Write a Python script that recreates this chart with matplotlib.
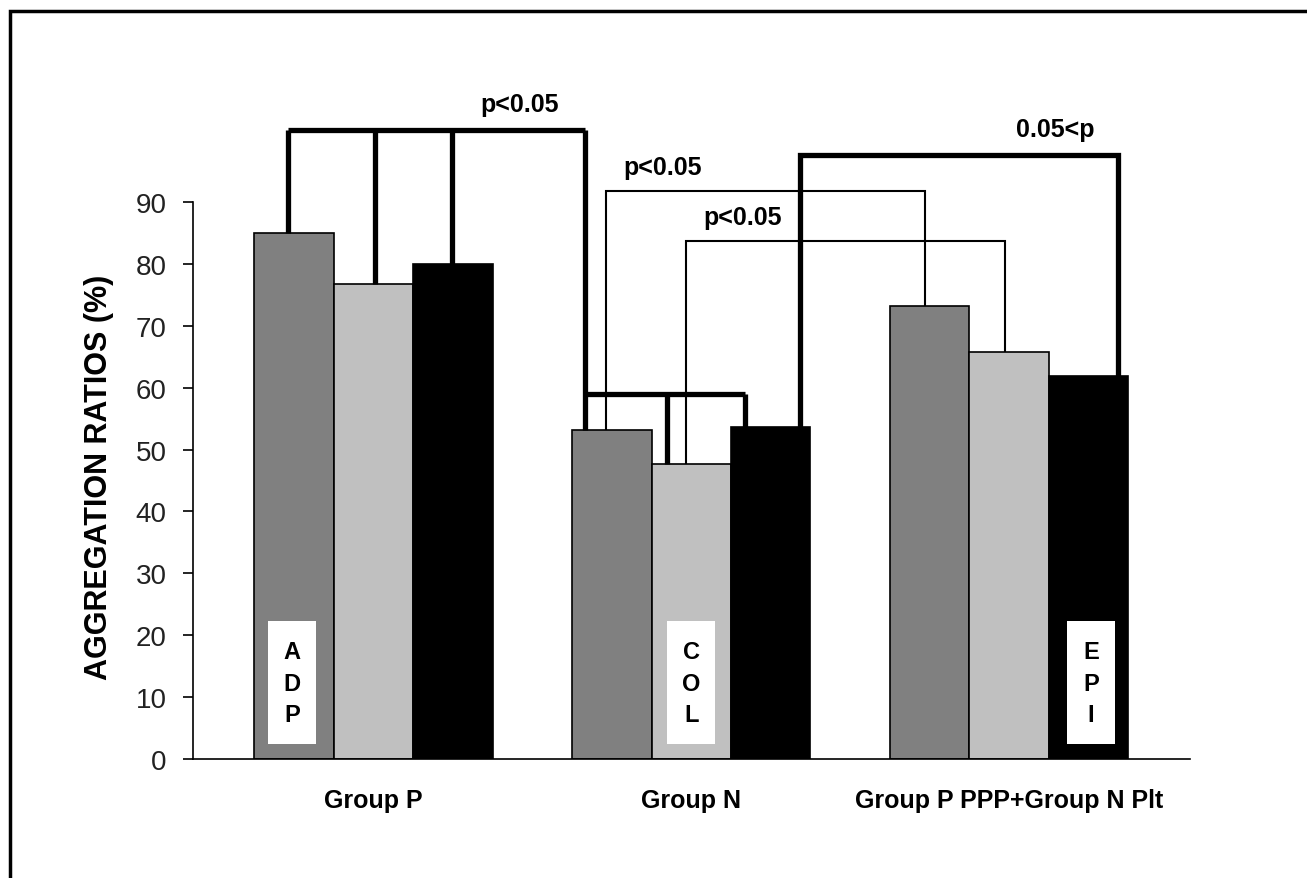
import numpy as np
import matplotlib.pyplot as plt
from matplotlib.patches import Rectangle

# data
groups = ["Group P", "Group N", "Group P PPP+Group N Plt"]
agents = ["ADP", "COL", "EPI"]
adp = [85.0, 53.2, 73.2]
col = [76.7, 47.7, 65.8]
epi = [80.0, 53.6, 61.9]
y_ticks = [0, 10, 20, 30, 40, 50, 60, 70, 80, 90]

farger = ["#808080", "#c0c0c0", "#000000"]
verdier = [adp, col, epi]
bredde = 0.25
font = ["Liberation Sans", "DejaVu Sans"]
plt.rcParams["font.family"] = font

fig = plt.figure(figsize=(13.07, 8.79), dpi=100)
ax = fig.add_axes([0.1477, 0.1354, 0.7628, 0.6337])

x = np.arange(len(groups))
offs = [-bredde, 0, bredde]
for i in range(3):
    ax.bar(x + offs[i], verdier[i], width=bredde, color=farger[i],
           edgecolor="black", linewidth=1.2, zorder=2)

ax.set_xlim(-0.568, 2.57)
ax.set_ylim(0, 90)
ax.set_yticks(y_ticks)
ax.set_yticklabels([str(t) for t in y_ticks], fontsize=20, color="#222222")
ax.set_xticks(x)
ax.set_xticklabels(groups, fontsize=18, fontweight="bold")
ax.tick_params(axis="x", length=0, pad=21)
ax.tick_params(axis="y", length=7, width=1.2, direction="out", pad=12)
ax.spines["top"].set_visible(False)
ax.spines["right"].set_visible(False)
ax.spines["left"].set_linewidth(1.2)
ax.spines["bottom"].set_linewidth(1.2)
ax.set_ylabel("AGGREGATION RATIOS (%)", fontsize=22, fontweight="bold")
ax.yaxis.set_label_coords(-0.079, 0.507)

# hvite bokser med navn på agonist inne i søylen
def boks(xpos, tekst):
    ax.add_patch(Rectangle((xpos - 0.0755, 2.4), 0.151, 19.9, facecolor="white",
                           edgecolor="none", zorder=4))
    for j, bokstav in enumerate(tekst):
        ax.text(xpos, 17.3 - 5.05 * j, bokstav, ha="center", va="center",
                fontsize=17, fontweight="bold", zorder=5)

boks(x[0] + offs[0] - 0.0065, agents[0])
boks(x[1] + offs[1], agents[1])
boks(x[2] + offs[2] + 0.008, agents[2])

# klammer for signifikans
def linje(xs, ys, lw):
    ax.plot(xs, ys, color="black", linewidth=lw, clip_on=False, zorder=3,
            solid_joinstyle="miter", solid_capstyle="butt")

tykk = 3.8
tynn = 1.5

# Group P klamme
topp_p = 101.6
xp = [x[0] - 0.269, x[0] + 0.005, x[0] + 0.247]
for xv, v in zip(xp, [adp[0], col[0], epi[0]]):
    linje([xv, xv], [v, topp_p], tykk)
xr = x[1] - 0.335
linje([xp[0], xr], [topp_p, topp_p], tykk)
linje([xr, xr], [topp_p, adp[1]], tykk)

# Group N klamme
topp_n = 59.0
xn2 = x[1] - 0.076
xn3 = x[1] + 0.169
linje([xr, xn3], [topp_n, topp_n], tykk)
linje([xn2, xn2], [col[1], topp_n], tykk)
linje([xn3, xn3], [epi[1], topp_n], tykk)

# tynne klammer mellom Group N og blandingen
t1 = 91.8
a1, b1 = x[1] - 0.268, x[2] - 0.264
linje([a1, a1, b1, b1], [adp[1], t1, t1, adp[2]], tynn)
t2 = 83.7
a2, b2 = x[1] - 0.017, x[2] - 0.013
linje([a2, a2, b2, b2], [col[1], t2, t2, col[2]], tynn)

# tykk klamme for EPI
t3 = 97.6
a3, b3 = x[1] + 0.342, x[2] + 0.343
linje([a3, a3, b3, b3], [epi[1], t3, t3, epi[2]], tykk)

tekst_kw = dict(ha="center", va="center", fontsize=18, fontweight="bold")
ax.text(0.46, 105.8, "p<0.05", **tekst_kw)
ax.text(0.911, 95.6, "p<0.05", **tekst_kw)
ax.text(1.163, 87.6, "p<0.05", **tekst_kw)
ax.text(2.145, 101.8, "0.05<p", **tekst_kw)

# ytre ramme
fig.patches.append(Rectangle((10 / 1307, -0.05), 1.2, 0.05 + (879 - 12) / 879,
                             transform=fig.transFigure, fill=False,
                             edgecolor="black", linewidth=2.5))

fig.savefig("out.png", dpi=100)
